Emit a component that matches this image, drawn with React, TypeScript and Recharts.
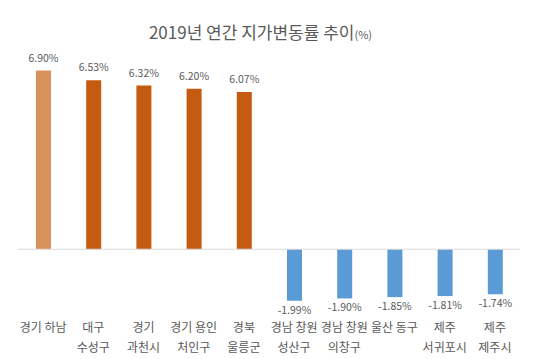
import { BarChart, Bar, XAxis, YAxis, Cell, LabelList, ReferenceLine } from "recharts"

const regions = [
    "경기 하남",
    "대구\n수성구",
    "경기\n과천시",
    "경기 용인\n처인구",
    "경북\n울릉군",
    "경남 창원\n성산구",
    "경남 창원\n의창구",
    "울산 동구",
    "제주\n서귀포시",
    "제주\n제주시",
]
const changes = [6.9, 6.53, 6.32, 6.2, 6.07, -1.99, -1.9, -1.85, -1.81, -1.74]

const data = regions.map((name, i) => ({ name, value: changes[i] }))

const textColor = "#595959"
const font = "'Noto Sans CJK KR', 'Noto Sans', sans-serif"

function barColor(v: number, i: number) {
    if (v < 0) return "#5B9BD5"
    return i === 0 ? "#DA925D" : "#C55A11"
}

const CategoryTick = (props: any) => {
    const { x, y, payload } = props
    const lines = String(payload.value).split("\n")
    return (
        <g>
            {lines.map((line, i) => (
                <text
                    key={i}
                    x={x}
                    y={y + 23 + i * 20}
                    textAnchor="middle"
                    fill={textColor}
                    fontSize={12}
                    fontFamily={font}
                >
                    {line}
                </text>
            ))}
        </g>
    )
}

const ValueLabel = (props: any) => {
    const { x, y, width, height, value } = props
    const top = Math.min(y, y + height)
    const bottom = Math.max(y, y + height)
    const cx = x + width / 2
    const ty = value < 0 ? bottom + 13 : top - 9
    return (
        <text x={cx} y={ty} textAnchor="middle" fill={textColor} fontSize={10.5} fontFamily={font}>
            {value.toFixed(2)}%
        </text>
    )
}

export default function App() {
    return (
        <div style={{ position: "absolute", left: 0, top: 0, width: 541, height: 359, background: "#fff" }}>
            <div
                style={{
                    position: "absolute",
                    top: 19,
                    left: 0,
                    width: 521,
                    textAlign: "center",
                    fontFamily: font,
                    fontSize: 17,
                    color: textColor,
                }}
            >
                2019년 연간 지가변동률 추이<span style={{ fontSize: 11 }}>(%)</span>
            </div>
            <BarChart
                width={541}
                height={359}
                data={data}
                margin={{ top: 68, right: 21, bottom: 28, left: 18 }}
            >
                <XAxis
                    dataKey="name"
                    axisLine={false}
                    tickLine={false}
                    interval={0}
                    height={30}
                    tick={<CategoryTick />}
                />
                <YAxis hide domain={[-2, 7]} allowDataOverflow />
                <ReferenceLine y={0} stroke="#D9D9D9" strokeWidth={1} />
                <Bar dataKey="value" barSize={15} isAnimationActive={false}>
                    {data.map((d, i) => (
                        <Cell key={i} fill={barColor(d.value, i)} />
                    ))}
                    <LabelList dataKey="value" content={<ValueLabel />} />
                </Bar>
            </BarChart>
        </div>
    )
}
